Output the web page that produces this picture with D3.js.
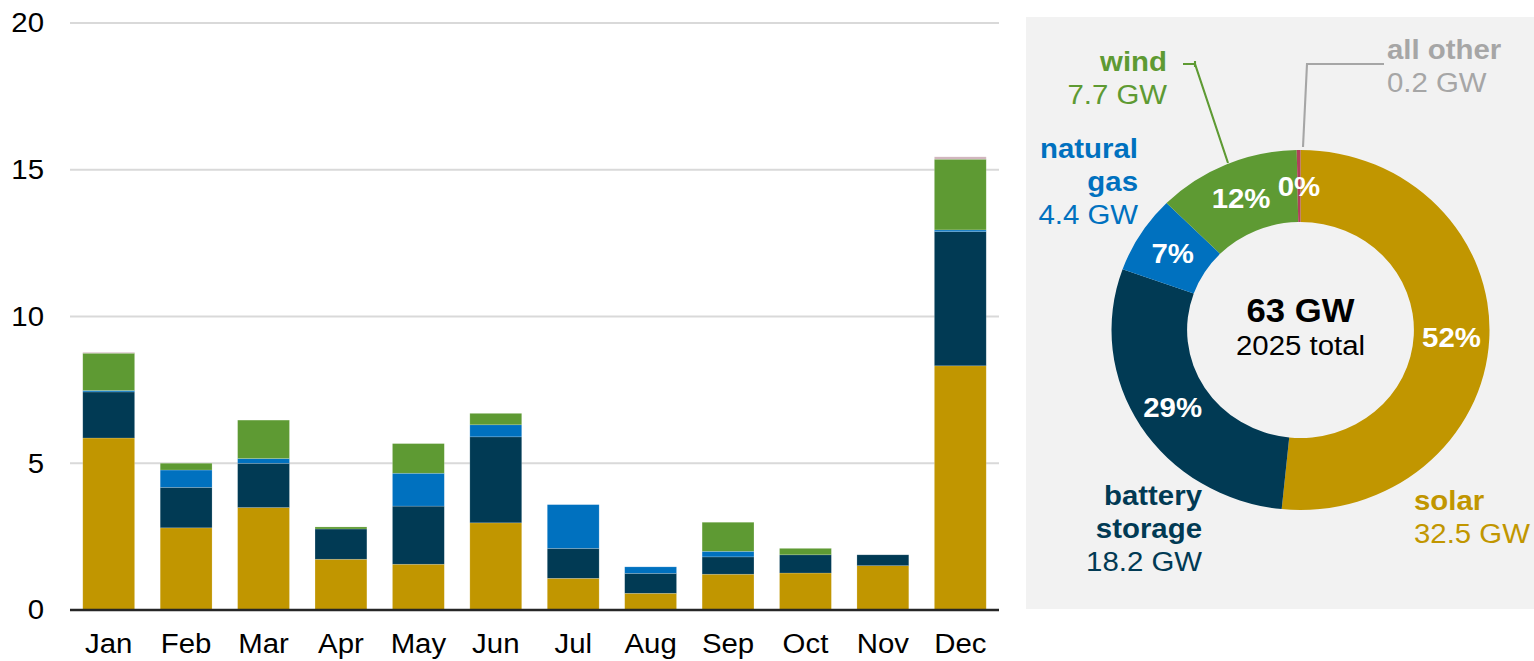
<!DOCTYPE html>
<html>
<head>
<meta charset="utf-8">
<script src="https://cdn.jsdelivr.net/npm/d3@7"></script>
<style>
  body { margin: 0; background: #fff; }
  svg { display: block; font-family: "Liberation Sans", Arial, sans-serif; }
</style>
</head>
<body>
<svg id="chart" width="1534" height="661"></svg>
<script>
// monthly capacity additions, GW
var months = ['Jan', 'Feb', 'Mar', 'Apr', 'May', 'Jun', 'Jul', 'Aug', 'Sep', 'Oct', 'Nov', 'Dec'];
var solar   = [5.86, 2.80, 3.49, 1.73, 1.56, 2.97, 1.08, 0.57, 1.22, 1.26, 1.51, 8.32];
var battery = [1.57, 1.38, 1.51, 1.03, 1.98, 2.93, 1.02, 0.68, 0.59, 0.62, 0.37, 4.57];
var gas     = [0.05, 0.59, 0.16, 0.00, 1.12, 0.41, 1.49, 0.22, 0.19, 0.00, 0.00, 0.06];
var wind    = [1.27, 0.23, 1.31, 0.07, 1.01, 0.39, 0.00, 0.00, 0.99, 0.22, 0.00, 2.41];
var other   = [0.03, 0.00, 0.00, 0.00, 0.00, 0.00, 0.00, 0.00, 0.00, 0.00, 0.00, 0.08];
var yTicks = [0, 5, 10, 15, 20];

// 2025 totals for the donut
var techKeys   = ['solar', 'battery', 'gas', 'wind', 'other'];
var techTotals = [32.5, 18.2, 4.4, 7.7, 0.2];
var techNames  = [['solar'], ['battery', 'storage'], ['natural', 'gas'], ['wind'], ['all other']];
var centerTitle = '63 GW';
var centerSub = '2025 total';

var colors = {solar: '#c19600', battery: '#013a54', gas: '#0071bf', wind: '#5e9a33', other: '#b0405a'};
var barOther = '#d0b4bc';
var labelColors = {solar: '#c19600', battery: '#013a54', gas: '#0071bf', wind: '#5e9a33', other: '#a6a6a6'};

// the original picture is a little wider than tall, so draw everything stretched
var SX = 1.05;
var svg = d3.select('#chart');
var root = svg.append('g').attr('transform', 'scale(' + SX + ',1)');

// ---------- stacked bars ----------
var rows = months.map(function(m, i) {
    return {month: m, solar: solar[i], battery: battery[i], gas: gas[i], wind: wind[i], other: other[i]};
});
var series = d3.stack().keys(techKeys)(rows);

var x = d3.scaleBand().domain(months).range([70 / SX, 999 / SX]).paddingInner(0.33).paddingOuter(0.165);
var y = d3.scaleLinear().domain([0, 20]).range([610, 23]);

// gridlines
root.append('g').selectAll('line')
    .data(yTicks.filter(function(d) { return d > 0; }))
    .enter().append('line')
    .attr('x1', 70 / SX).attr('x2', 999 / SX)
    .attr('y1', function(d) { return y(d); })
    .attr('y2', function(d) { return y(d); })
    .attr('stroke', '#d9d9d9')
    .attr('stroke-width', 2);

// y labels
var yAxis = root.append('g')
    .attr('transform', 'translate(' + (44 / SX) + ',0)')
    .call(d3.axisLeft(y).tickValues(yTicks).tickSize(0).tickPadding(0));
yAxis.select('.domain').remove();
yAxis.selectAll('text')
    .attr('font-size', 28)
    .attr('font-family', '"Liberation Sans", Arial, sans-serif')
    .attr('fill', '#000');

// bars
root.append('g').selectAll('g')
    .data(series)
    .enter().append('g')
    .attr('fill', function(d) { return d.key == 'other' ? barOther : colors[d.key]; })
    .selectAll('rect')
    .data(function(d) { return d; })
    .enter().append('rect')
    .attr('x', function(d) { return x(d.data.month); })
    .attr('width', x.bandwidth())
    .attr('y', function(d) { return y(d[1]); })
    .attr('height', function(d) { return Math.max(0, y(d[0]) - y(d[1])); })
    .attr('stroke', 'rgba(255,255,255,0.3)')
    .attr('stroke-width', 0.6);

// zero line
root.append('line')
    .attr('x1', 70 / SX).attr('x2', 999 / SX)
    .attr('y1', y(0)).attr('y2', y(0))
    .attr('stroke', '#262626')
    .attr('stroke-width', 2.5);

// month labels
var xAxis = root.append('g')
    .attr('transform', 'translate(0,' + y(0) + ')')
    .call(d3.axisBottom(x).tickSize(0).tickPadding(23));
xAxis.select('.domain').remove();
xAxis.selectAll('text')
    .attr('font-size', 28)
    .attr('font-family', '"Liberation Sans", Arial, sans-serif')
    .attr('fill', '#000');

// ---------- donut panel ----------
root.append('rect')
    .attr('x', 1026 / SX).attr('y', 17)
    .attr('width', (1534 - 1026) / SX).attr('height', 592)
    .attr('fill', '#f2f2f2');

var cx = 1300.5 / SX, cy = 330;
var outerR = 180, innerR = 108;
var total = d3.sum(techTotals);

var pie = d3.pie().sort(null).value(function(d) { return d.value; });
var arc = d3.arc().innerRadius(innerR).outerRadius(outerR);
var arcs = pie(techKeys.map(function(k, i) { return {key: k, value: techTotals[i]}; }));

var donut = root.append('g').attr('transform', 'translate(' + cx + ',' + cy + ')');
donut.selectAll('path')
    .data(arcs)
    .enter().append('path')
    .attr('d', arc)
    .attr('fill', function(d) { return colors[d.data.key]; });

// percent labels at the centroid
var midArc = d3.arc().innerRadius(144).outerRadius(144);
donut.selectAll('text.pct')
    .data(arcs)
    .enter().append('text')
    .attr('class', 'pct')
    .attr('transform', function(d) {
        var c = midArc.centroid(d);
        return 'translate(' + c[0] + ',' + c[1] + ')';
    })
    .attr('text-anchor', 'middle')
    .attr('dy', '0.36em')
    .attr('font-size', 28)
    .attr('font-weight', 'bold')
    .attr('fill', '#fff')
    .text(function(d) { return Math.round(d.data.value / total * 100) + '%'; });

// center text
donut.append('text')
    .attr('text-anchor', 'middle').attr('y', -8)
    .attr('font-size', 33).attr('font-weight', 'bold').attr('fill', '#000')
    .text(centerTitle);
donut.append('text')
    .attr('text-anchor', 'middle').attr('y', 25)
    .attr('font-size', 28).attr('fill', '#000')
    .text(centerSub);

// outside labels: name lines bold, value line regular
var labelPos = {
    solar:   {x: 1414, y: 510, anchor: 'start'},
    battery: {x: 1202, y: 505, anchor: 'end'},
    gas:     {x: 1138, y: 158, anchor: 'end'},
    wind:    {x: 1167, y: 71,  anchor: 'end'},
    other:   {x: 1387, y: 59,  anchor: 'start'}
};
techKeys.forEach(function(k, i) {
    var p = labelPos[k];
    var t = root.append('text')
        .attr('x', p.x / SX).attr('y', p.y)
        .attr('text-anchor', p.anchor)
        .attr('font-size', 28)
        .attr('fill', labelColors[k]);
    techNames[i].forEach(function(line, j) {
        t.append('tspan')
            .attr('x', p.x / SX).attr('dy', j == 0 ? 0 : 33)
            .attr('font-weight', 'bold')
            .text(line);
    });
    t.append('tspan')
        .attr('x', p.x / SX).attr('dy', 33)
        .text(techTotals[i] + ' GW');
});

// leader lines for the small slices
var line = d3.line();
root.append('path')
    .attr('d', line([[1183 / SX, 64], [1195 / SX, 64], [1228 / SX, 163]]))
    .attr('fill', 'none').attr('stroke', colors.wind).attr('stroke-width', 2);
root.append('path')
    .attr('d', line([[1195 / SX, 61], [1195 / SX, 67]]))
    .attr('stroke', colors.wind).attr('stroke-width', 2);
root.append('path')
    .attr('d', line([[1384 / SX, 64], [1307 / SX, 64], [1303 / SX, 147]]))
    .attr('fill', 'none').attr('stroke', '#a6a6a6').attr('stroke-width', 2);
</script>
</body>
</html>
